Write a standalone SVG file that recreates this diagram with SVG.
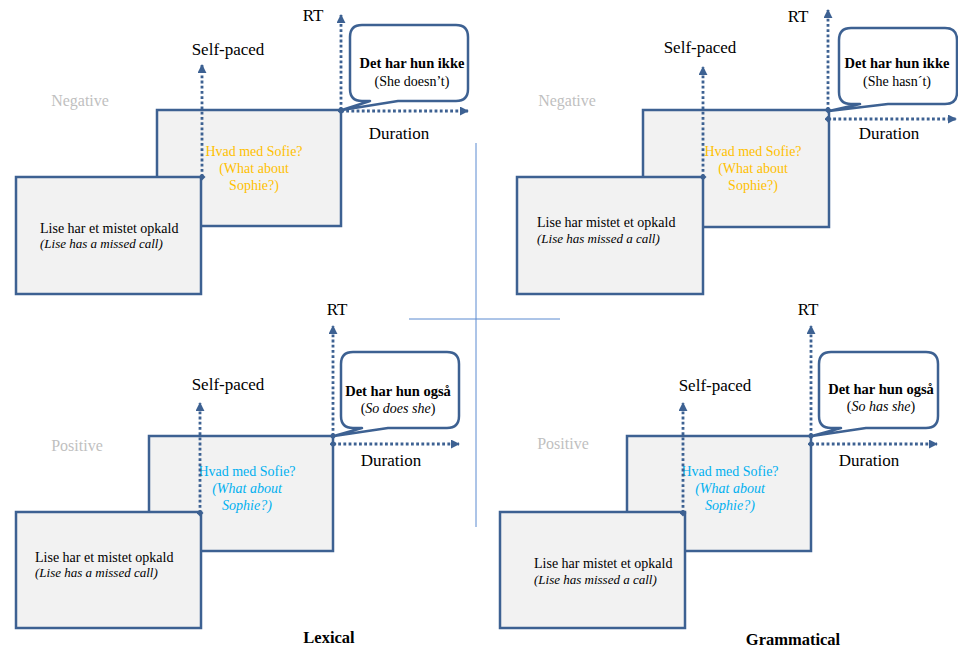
<svg xmlns="http://www.w3.org/2000/svg" width="958" height="649" viewBox="0 0 958 649" font-family="'Liberation Serif', 'DejaVu Serif', serif">
<defs>
<style>
text{font-family:"Liberation Serif","DejaVu Serif",serif;}
.box{fill:#F2F2F2;stroke:#3D6192;stroke-width:2.5;}
.call{fill:#FFFFFF;stroke:#3D6192;stroke-width:2.5;stroke-linejoin:round;}
.dot{fill:none;stroke:#3D6192;stroke-width:2.8;stroke-dasharray:2.8 2.4;marker-end:url(#arr);marker-start:url(#dia);}
.axis{font-size:17px;fill:#000;text-anchor:middle;}
.cond{font-size:16px;fill:#BFBFBF;text-anchor:middle;}
.ctb{font-size:14.5px;font-weight:bold;fill:#000;text-anchor:middle;}
.ct{font-size:14px;fill:#000;text-anchor:middle;}
.bt{font-size:14px;fill:#000;}
.bti{font-size:13px;font-style:italic;fill:#000;}
.yel{font-size:14px;fill:#FFC000;text-anchor:middle;}
.cy{font-size:14px;fill:#00B0F0;text-anchor:middle;}
.ttl{font-size:16.5px;font-weight:bold;fill:#000;text-anchor:middle;}
.cross{stroke:#5A8AD0;stroke-width:1;}
</style>
<marker id="arr" viewBox="0 0 10 10" refX="9" refY="5" markerWidth="9" markerHeight="9" markerUnits="userSpaceOnUse" orient="auto"><path d="M0,0 L10,5 L0,10 Z" fill="#3D6192"/></marker>
<marker id="dia" viewBox="0 0 10 10" refX="5" refY="5" markerWidth="7" markerHeight="7" markerUnits="userSpaceOnUse"><path d="M5,0 L10,5 L5,10 L0,5 Z" fill="#3D6192"/></marker>
</defs>

<g id="crosshair">
<line class="cross" x1="476" y1="143" x2="476" y2="527"/>
<line class="cross" x1="409" y1="319" x2="560" y2="319"/>
</g>

<!-- Panel 1 -->
<g id="p1-upper"><rect class="box" x="157" y="110" width="184" height="116"/>
<text class="yel" x="254" y="156">Hvad med Sofie?</text>
<text class="yel" x="254" y="173">(What about</text>
<text class="yel" x="254" y="190">Sophie?)</text></g>
<g id="p1-lower"><rect class="box" x="16" y="177" width="185" height="117"/>
<text class="bt" x="40" y="233">Lise har et mistet opkald</text>
<text class="bti" x="40" y="248">(Lise has a missed call)</text></g>
<g id="p1-callout"><path class="call" d="M362,25 H456 Q468,25 468,37 V89 Q468,101 456,101 H398 L342,110 L370,101 H362 Q350,101 350,89 V37 Q350,25 362,25 Z"/>
<text class="ctb" x="412" y="68">Det har hun ikke</text>
<text class="ct" x="412" y="86">(She doesn’t)</text></g>
<g id="p1-labels">
<text class="cond" x="80" y="106">Negative</text>
<text class="axis" x="228" y="55">Self-paced</text>
<text class="axis" x="313" y="21">RT</text>
<text class="axis" x="399" y="139">Duration</text></g>

<!-- Panel 2 -->
<g id="p2-upper"><rect class="box" x="643" y="110" width="186" height="117"/>
<text class="yel" x="753" y="156">Hvad med Sofie?</text>
<text class="yel" x="753" y="173">(What about</text>
<text class="yel" x="753" y="190">Sophie?)</text></g>
<g id="p2-lower"><rect class="box" x="517" y="177" width="186" height="117"/>
<text class="bt" x="537" y="227">Lise har mistet et opkald</text>
<text class="bti" x="537" y="243">(Lise has missed a call)</text></g>
<g id="p2-callout"><path class="call" d="M851,28 H945 Q957,28 957,40 V92 Q957,104 945,104 H888 L829,111 L860,104 H851 Q839,104 839,92 V40 Q839,28 851,28 Z"/>
<text class="ctb" x="897" y="68">Det har hun ikke</text>
<text class="ct" x="897" y="86">(She hasn´t)</text></g>
<g id="p2-labels">
<text class="cond" x="567" y="106">Negative</text>
<text class="axis" x="700" y="53">Self-paced</text>
<text class="axis" x="798" y="22">RT</text>
<text class="axis" x="889" y="139">Duration</text></g>

<!-- Panel 3 -->
<g id="p3-upper"><rect class="box" x="149" y="436" width="184" height="115"/>
<text class="cy" x="247" y="476">Hvad med Sofie?</text>
<text class="cy" x="247" y="493" font-style="italic">(What about</text>
<text class="cy" x="247" y="510" font-style="italic">Sophie?)</text></g>
<g id="p3-lower"><rect class="box" x="16" y="512" width="185" height="116"/>
<text class="bt" x="35" y="562">Lise har et mistet opkald</text>
<text class="bti" x="35" y="577">(Lise has a missed call)</text></g>
<g id="p3-callout"><path class="call" d="M353,352 H447 Q459,352 459,364 V416 Q459,428 447,428 H388 L334,436 L362,428 H353 Q341,428 341,416 V364 Q341,352 353,352 Z"/>
<text class="ctb" x="398" y="396">Det har hun også</text>
<text class="ct" x="398" y="413">(<tspan font-style="italic">So does she</tspan>)</text></g>
<g id="p3-labels">
<text class="cond" x="77" y="451">Positive</text>
<text class="axis" x="228" y="390">Self-paced</text>
<text class="axis" x="337" y="315">RT</text>
<text class="axis" x="391" y="466">Duration</text>
<text class="ttl" x="329" y="643">Lexical</text></g>

<!-- Panel 4 -->
<g id="p4-upper"><rect class="box" x="627" y="436" width="184" height="115"/>
<text class="cy" x="730" y="476">Hvad med Sofie?</text>
<text class="cy" x="730" y="493" font-style="italic">(What about</text>
<text class="cy" x="730" y="510" font-style="italic">Sophie?)</text></g>
<g id="p4-lower"><rect class="box" x="500" y="512" width="185" height="116"/>
<text class="bt" x="534" y="568">Lise har mistet et opkald</text>
<text class="bti" x="534" y="584">(Lise has missed a call)</text></g>
<g id="p4-callout"><path class="call" d="M831,352 H926 Q938,352 938,364 V416 Q938,428 926,428 H866 L812,436 L841,428 H831 Q819,428 819,416 V364 Q819,352 831,352 Z"/>
<text class="ctb" x="881" y="394">Det har hun også</text>
<text class="ct" x="881" y="411">(<tspan font-style="italic">So has she</tspan>)</text></g>
<g id="p4-labels">
<text class="cond" x="563" y="449">Positive</text>
<text class="axis" x="715" y="391">Self-paced</text>
<text class="axis" x="808" y="315">RT</text>
<text class="axis" x="869" y="466">Duration</text>
<text class="ttl" x="793" y="645">Grammatical</text></g>

<g id="connectors">
<line class="dot" x1="202" y1="177" x2="202" y2="65"/>
<line class="dot" x1="341" y1="110" x2="341" y2="15"/>
<line class="dot" x1="341" y1="111" x2="468" y2="111"/>
<line class="dot" x1="703" y1="177" x2="703" y2="67"/>
<line class="dot" x1="828" y1="110" x2="828" y2="10"/>
<line class="dot" x1="828" y1="119" x2="956" y2="119"/>
<line class="dot" x1="200" y1="513" x2="200" y2="403"/>
<line class="dot" x1="333" y1="436" x2="333" y2="326"/>
<line class="dot" x1="333" y1="444" x2="459" y2="444"/>
<line class="dot" x1="683" y1="513" x2="683" y2="403"/>
<line class="dot" x1="811" y1="436" x2="811" y2="326"/>
<line class="dot" x1="811" y1="444" x2="937" y2="444"/>
</g>
</svg>
